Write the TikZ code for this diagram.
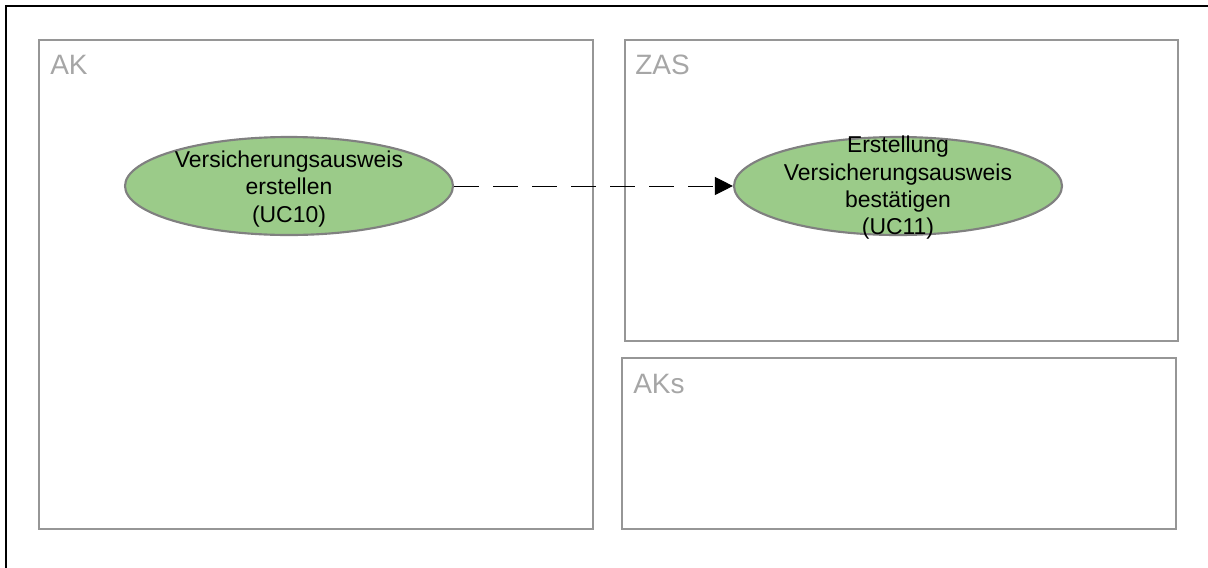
\documentclass[tikz,border=0pt]{standalone}
\usepackage{fontspec}
\setmainfont{Liberation Sans}
\usetikzlibrary{shapes, arrows.meta, positioning}
\definecolor{ucgreen}{RGB}{155,203,137}
\definecolor{ucborder}{RGB}{128,128,128}
\definecolor{laneline}{RGB}{150,150,150}
\definecolor{lanetext}{RGB}{166,166,166}

\begin{document}
\begin{tikzpicture}[x=0.75pt, y=-0.75pt,
			usecase/.style={draw=ucborder, fill=ucgreen, ellipse, line width=1.6pt, minimum width=246pt, minimum height=73.5pt, inner sep=0pt},
			uctext/.style={align=center, inner sep=0pt, font=\fontsize{17.2pt}{20.5pt}\selectfont},
			lane/.style={draw=laneline, line width=1.1pt},
			lanename/.style={anchor=base west, inner sep=0pt, text=lanetext, font=\fontsize{21pt}{25pt}\selectfont}]
			\useasboundingbox (0,0) rectangle (1208,568);
			\draw[line width=1.5pt] (6,6) rectangle (1230,590);
			
			\draw[lane] (39,40) rectangle (593,529);
			\node[lanename](ak) at (50,74) {AK};
			
			\draw[lane] (625,40) rectangle (1178,341);
			\node[lanename](zas) at (635,74) {ZAS};
			
			\draw[lane] (622,358) rectangle (1176,529);
			\node[lanename](aks) at (633,393) {AKs};
			
			\node[usecase](uc10) at (289,186) {};
			\node[uctext](uc10text) at (289,189) {Versicherungsausweis \\ erstellen \\ (UC10)};
			
			\node[usecase](uc11) at (898,186) {};
			\node[uctext](uc11text) at (898,188) {Erstellung \\ Versicherungsausweis \\ bestätigen \\ (UC11)};
			
			\draw[->, >={Triangle[length=13.5pt, width=13.5pt]}, line width=0.75pt, dash pattern=on 18.75pt off 10.5pt] (uc10) edge (uc11);
			\end{tikzpicture}
\end{document}
